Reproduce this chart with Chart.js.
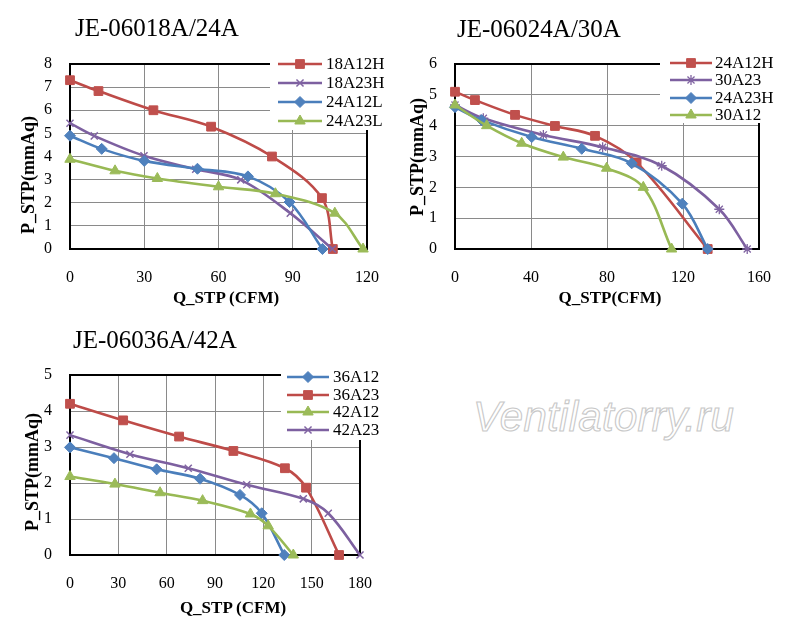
<!DOCTYPE html>
<html><head><meta charset="utf-8">
<script src="https://cdn.jsdelivr.net/npm/chart.js@4.4.0/dist/chart.umd.min.js"></script>
<style>
html,body{margin:0;padding:0;background:#fff;width:800px;height:640px;overflow:hidden;}
#wrap{position:relative;width:800px;height:640px;}
canvas{position:absolute;}
.t{position:absolute;font-family:"Liberation Serif","Times New Roman",serif;color:#000;white-space:nowrap;line-height:1;}
.title{font-size:25px;}
.xl{font-size:17px;font-weight:bold;transform:translate(-50%,-50%);}
.yl{font-size:18px;font-weight:bold;transform:translate(-50%,-50%) rotate(-90deg);}
.wm{position:absolute;left:473px;top:396px;font-family:"Liberation Sans",Arial,sans-serif;font-style:italic;font-size:42px;letter-spacing:0.3px;line-height:1;color:#fff;-webkit-text-stroke:1.1px #c8c8c8;white-space:nowrap;}
</style></head>
<body><div id="wrap">
<canvas id="c1" width="400" height="320" style="left:0;top:0;width:400px;height:320px"></canvas>
<canvas id="c2" width="400" height="320" style="left:400px;top:0;width:400px;height:320px"></canvas>
<canvas id="c3" width="400" height="320" style="left:0;top:320px;width:400px;height:320px"></canvas>
<div class="t title" style="left:75px;top:15px">JE-06018A/24A</div>
<div class="t title" style="left:457px;top:16px">JE-06024A/30A</div>
<div class="t title" style="left:73px;top:327px">JE-06036A/42A</div>
<div class="t xl" style="left:226px;top:297px">Q_STP (CFM)</div>
<div class="t xl" style="left:610px;top:297px">Q_STP(CFM)</div>
<div class="t xl" style="left:233px;top:607px">Q_STP (CFM)</div>
<div class="t yl" style="left:28px;top:175px">P_STP(mmAq)</div>
<div class="t yl" style="left:417px;top:157px">P_STP(mmAq)</div>
<div class="t yl" style="left:32px;top:472px">P_STP(mmAq)</div>
<div class="wm">Ventilatorry.ru</div>
</div>
<script>
// ---- Chart 1: JE-06018A/24A ----
const c1Labels = ['18A12H', '18A23H', '24A12L', '24A23L'];
const c1_18A12H_q = [0, 11.5, 33.7, 57, 81.6, 101.8, 106.2];
const c1_18A12H_p = [7.3, 6.83, 6.0, 5.29, 4.0, 2.2, 0];
const c1_18A23H_q = [0, 9.8, 29.9, 50.8, 69, 89, 106];
const c1_18A23H_p = [5.44, 4.89, 4.03, 3.45, 2.99, 1.55, 0];
const c1_24A12L_q = [0, 12.8, 30, 51.5, 71.9, 88.7, 102];
const c1_24A12L_p = [4.9, 4.33, 3.81, 3.47, 3.14, 2.03, 0];
const c1_24A23L_q = [0, 18.2, 35.3, 60, 83, 107, 118.4];
const c1_24A23L_p = [3.88, 3.38, 3.05, 2.69, 2.39, 1.55, 0];

// ---- Chart 2: JE-06024A/30A ----
const c2Labels = ['24A12H', '30A23', '24A23H', '30A12'];
const c2_24A12H_q = [0, 10.5, 31.6, 52.6, 73.7, 95.6, 133];
const c2_24A12H_p = [5.1, 4.83, 4.35, 3.99, 3.67, 2.81, 0];
const c2_30A23_q = [0, 14.9, 46.5, 77.7, 108.8, 139.1, 153.8];
const c2_30A23_p = [4.67, 4.24, 3.70, 3.30, 2.70, 1.29, 0];
const c2_24A23H_q = [0, 14, 40.4, 66.7, 93, 119.6, 133];
const c2_24A23H_p = [4.6, 4.18, 3.63, 3.25, 2.78, 1.47, 0];
const c2_30A12_q = [0, 16.7, 35.1, 57, 79.8, 99.1, 114];
const c2_30A12_p = [4.67, 4.0, 3.43, 2.98, 2.62, 2.0, 0];

// ---- Chart 3: JE-06036A/42A ----
const c3Labels = ['36A12', '36A23', '42A12', '42A23'];
const c3_36A12_q = [0, 27.3, 53.8, 80.7, 105.5, 119, 133];
const c3_36A12_p = [2.99, 2.69, 2.38, 2.12, 1.67, 1.16, 0];
const c3_36A23_q = [0, 33, 67.7, 101.4, 133.4, 146.5, 167];
const c3_36A23_p = [4.2, 3.74, 3.29, 2.89, 2.41, 1.87, 0];
const c3_42A12_q = [0, 27.9, 55.9, 82.3, 112, 123, 138.6];
const c3_42A12_p = [2.18, 1.97, 1.73, 1.51, 1.14, 0.81, 0];
const c3_42A23_q = [0, 37.2, 73.4, 109.7, 144.8, 160.3, 180];
const c3_42A23_p = [3.33, 2.8, 2.41, 1.95, 1.56, 1.16, 0];

// axis ranges
const c1X = {max: 120, step: 30}, c1Y = {max: 8};
const c2X = {max: 160, step: 40}, c2Y = {max: 6};
const c3X = {max: 180, step: 30}, c3Y = {max: 5};

const COL = {
  red:    {line: '#BE4B48', mark: '#C0504D'},
  purple: {line: '#7D60A0', mark: '#8064A2'},
  blue:   {line: '#4A7EBB', mark: '#4F81BD'},
  green:  {line: '#98B954', mark: '#9BBB59'}
};
const STY = {
  rect: {style: 'rect', r: 6.2, bw: 1},
  rectRot: {style: 'rectRot', r: 5.5, bw: 1},
  triangle: {style: 'triangle', r: 6, bw: 1},
  crossRot: {style: 'crossRot', r: 5, bw: 1.5},
  star: {style: 'star', r: 5, bw: 1.3}
};

function pts(q, p) { return q.map((x, i) => ({x: x, y: p[i]})); }

function drawMarker(ctx, st, col, x, y) {
  ctx.save();
  ctx.fillStyle = col.mark; ctx.strokeStyle = col.mark; ctx.lineWidth = st.bw;
  if (Chart.helpers && Chart.helpers.drawPoint) {
    Chart.helpers.drawPoint(ctx, {pointStyle: st.style, radius: st.r, rotation: 0, borderWidth: st.bw}, x, y);
  }
  ctx.restore();
}

function makeChart(id, series, xr, yr, area, legend) {
  const W = 400, H = 320, XH = 40;
  const datasets = series.map((s, i) => ({
    label: s.label,
    data: pts(s.q, s.p),
    borderColor: s.col.line,
    backgroundColor: s.col.mark,
    pointBackgroundColor: s.col.mark,
    pointBorderColor: s.col.mark,
    pointStyle: s.st.style,
    pointRadius: s.st.r,
    pointBorderWidth: s.st.bw,
    pointHoverRadius: s.st.r,
    borderWidth: 2.6,
    tension: 0.35,
    fill: false,
    clip: false,
    order: series.length - i
  }));
  const tickFont = {family: "'Liberation Serif','Times New Roman',serif", size: 16};
  const framePlugin = {
    id: 'frame' + id,
    beforeDatasetsDraw(chart) {
      const a = chart.chartArea, ctx = chart.ctx;
      ctx.save(); ctx.strokeStyle = '#000'; ctx.lineWidth = 2;
      ctx.strokeRect(a.left, a.top, a.right - a.left, a.bottom - a.top);
      ctx.restore();
    },
    afterDraw(chart) {
      const ctx = chart.ctx;
      ctx.save();
      ctx.fillStyle = '#fff';
      ctx.fillRect(legend.boxLeft, 0, W - legend.boxLeft, legend.boxBottom);
      series.forEach((s, i) => {
        const y = legend.rows[i];
        ctx.strokeStyle = s.col.line; ctx.lineWidth = 2.6;
        ctx.beginPath(); ctx.moveTo(legend.x1, y); ctx.lineTo(legend.x2, y); ctx.stroke();
        drawMarker(ctx, s.st, s.col, (legend.x1 + legend.x2) / 2, y);
        ctx.fillStyle = '#000';
        ctx.font = "17px 'Liberation Serif','Times New Roman',serif";
        ctx.textBaseline = 'middle'; ctx.textAlign = 'left';
        ctx.fillText(s.label, legend.tx, y + 1);
      });
      ctx.restore();
    }
  };
  return new Chart(document.getElementById(id), {
    type: 'line',
    data: {datasets: datasets},
    options: {
      responsive: false, animation: false, devicePixelRatio: 1,
      layout: {padding: {left: 0, top: area.top, right: W - area.right, bottom: H - area.bottom - XH}},
      plugins: {legend: {display: false}, tooltip: {enabled: false}},
      scales: {
        x: {type: 'linear', min: 0, max: xr.max,
            ticks: {stepSize: xr.step, padding: 19, font: tickFont, color: '#000', maxRotation: 0, autoSkip: false},
            grid: {color: '#8a8a8a', lineWidth: 1, drawTicks: false},
            border: {display: false},
            afterFit(s) { s.height = XH; }},
        y: {type: 'linear', min: 0, max: yr.max,
            ticks: {stepSize: 1, padding: 18, font: tickFont, color: '#000', autoSkip: false},
            grid: {color: '#8a8a8a', lineWidth: 1, drawTicks: false},
            border: {display: false},
            afterFit(s) { s.width = area.left; }}
      }
    },
    plugins: [framePlugin]
  });
}

makeChart('c1', [
  {label: c1Labels[0], q: c1_18A12H_q, p: c1_18A12H_p, col: COL.red, st: STY.rect},
  {label: c1Labels[1], q: c1_18A23H_q, p: c1_18A23H_p, col: COL.purple, st: STY.crossRot},
  {label: c1Labels[2], q: c1_24A12L_q, p: c1_24A12L_p, col: COL.blue, st: STY.rectRot},
  {label: c1Labels[3], q: c1_24A23L_q, p: c1_24A23L_p, col: COL.green, st: STY.triangle}
], c1X, c1Y, {left: 70, top: 64, right: 367, bottom: 249},
  {boxLeft: 270, boxBottom: 130, x1: 278, x2: 322, tx: 326, rows: [64, 83, 102, 121]});

makeChart('c2', [
  {label: c2Labels[0], q: c2_24A12H_q, p: c2_24A12H_p, col: COL.red, st: STY.rect},
  {label: c2Labels[1], q: c2_30A23_q, p: c2_30A23_p, col: COL.purple, st: STY.star},
  {label: c2Labels[2], q: c2_24A23H_q, p: c2_24A23H_p, col: COL.blue, st: STY.rectRot},
  {label: c2Labels[3], q: c2_30A12_q, p: c2_30A12_p, col: COL.green, st: STY.triangle}
], c2X, c2Y, {left: 55, top: 64, right: 359, bottom: 249},
  {boxLeft: 260, boxBottom: 123, x1: 270, x2: 312, tx: 315, rows: [63, 80, 98, 115]});

makeChart('c3', [
  {label: c3Labels[0], q: c3_36A12_q, p: c3_36A12_p, col: COL.blue, st: STY.rectRot},
  {label: c3Labels[1], q: c3_36A23_q, p: c3_36A23_p, col: COL.red, st: STY.rect},
  {label: c3Labels[2], q: c3_42A12_q, p: c3_42A12_p, col: COL.green, st: STY.triangle},
  {label: c3Labels[3], q: c3_42A23_q, p: c3_42A23_p, col: COL.purple, st: STY.crossRot}
], c3X, c3Y, {left: 70, top: 55, right: 360, bottom: 235},
  {boxLeft: 281, boxBottom: 120, x1: 287, x2: 329, tx: 333, rows: [57, 75, 92, 110]});
</script>
</body></html>
